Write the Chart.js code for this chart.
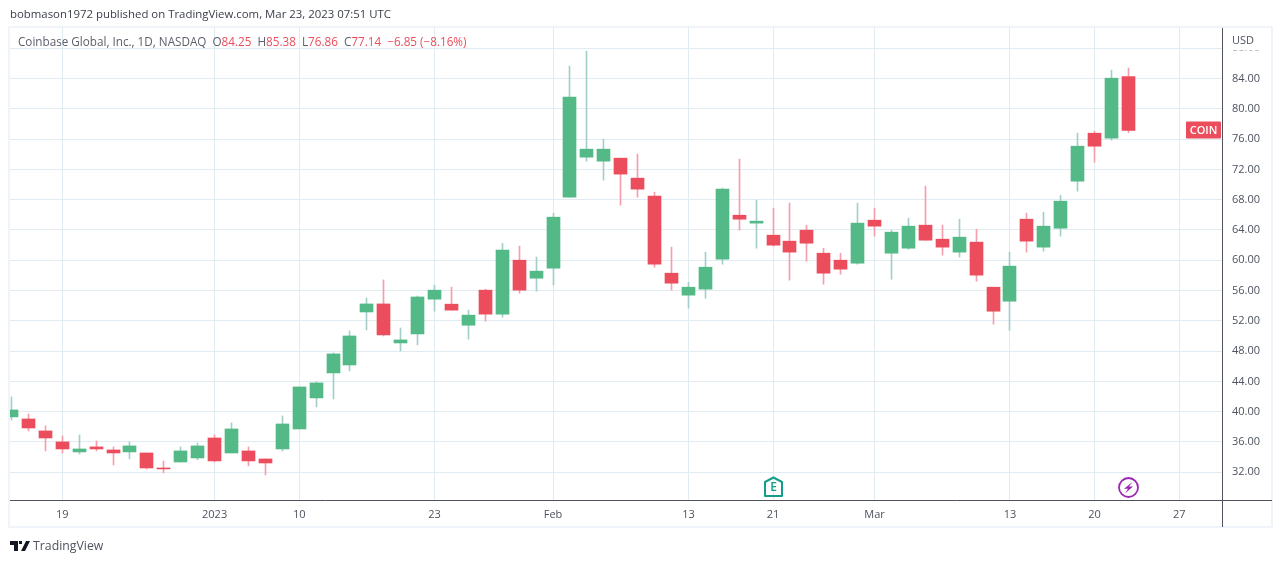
<!DOCTYPE html>
<html>
<head>
<meta charset="utf-8">
<title>COIN</title>
<script src="https://cdn.jsdelivr.net/npm/chart.js@4/dist/chart.umd.min.js"></script>
<style>
  html, body { margin: 0; padding: 0; background: #fff; overflow: hidden; }
  #wrap { position: relative; width: 1280px; height: 563px; font-family: "Open Sans", sans-serif; }
  #chart { position: absolute; left: 0; top: 0; }
  .txt { position: absolute; white-space: pre; }
  #published { left: 10px; top: 6px; font-size: 11.4px; color: #3a3e49; }
  #legend { left: 18px; top: 33px; font-size: 11.7px; color: #5d606b; }
  #legend span { color: #eb4d5c; }
  #brand { left: 33px; top: 537px; font-size: 12.3px; color: #50535e; }
  #logo { position: absolute; left: 10px; top: 541px; }
</style>
</head>
<body>
<div id="wrap">
  <canvas id="chart" width="1280" height="563"></canvas>
  <div class="txt" id="published">bobmason1972 published on TradingView.com, Mar 23, 2023 07:51 UTC</div>
  <div class="txt" id="legend">Coinbase Global, Inc., 1D, NASDAQ  O<span>84.25</span>  H<span>85.38</span>  L<span>76.86</span>  C<span>77.14</span>  <span>−6.85 (−8.16%)</span></div>
  <svg id="logo" width="20" height="10" viewBox="0 0 20 10"><path d="M0 0h8v10H4V4H0zM9 0h3v3H9zM16 0h4l-5 10h-4z" fill="#131722"/></svg>
  <div class="txt" id="brand">TradingView</div>
</div>
<script>
// trading days, oldest first, then the empty days up to the right edge
const dates = [
  'Dec 14', 'Dec 15', 'Dec 16', 'Dec 19', 'Dec 20', 'Dec 21', 'Dec 22', 'Dec 23', 'Dec 27', 'Dec 28',
  'Dec 29', 'Dec 30', 'Jan 3', 'Jan 4', 'Jan 5', 'Jan 6', 'Jan 9', 'Jan 10', 'Jan 11', 'Jan 12',
  'Jan 13', 'Jan 17', 'Jan 18', 'Jan 19', 'Jan 20', 'Jan 23', 'Jan 24', 'Jan 25', 'Jan 26', 'Jan 27',
  'Jan 30', 'Jan 31', 'Feb 1', 'Feb 2', 'Feb 3', 'Feb 6', 'Feb 7', 'Feb 8', 'Feb 9', 'Feb 10',
  'Feb 13', 'Feb 14', 'Feb 15', 'Feb 16', 'Feb 17', 'Feb 21', 'Feb 22', 'Feb 23', 'Feb 24', 'Feb 27',
  'Feb 28', 'Mar 1', 'Mar 2', 'Mar 3', 'Mar 6', 'Mar 7', 'Mar 8', 'Mar 9', 'Mar 10', 'Mar 13',
  'Mar 14', 'Mar 15', 'Mar 16', 'Mar 17', 'Mar 20', 'Mar 21', 'Mar 22', 'Mar 23', 'Mar 24', 'Mar 27'
];

const opens = [
  39.31, 39.04, 37.46, 36.01, 34.69, 35.35, 34.95, 34.69, 34.55, 32.57,
  33.36, 33.89, 36.53, 34.55, 34.82, 33.76, 35.08, 37.72, 41.82, 45.12,
  46.17, 53.17, 54.23, 49.08, 50.27, 54.86, 54.20, 51.42, 56.05, 52.88,
  60.01, 57.63, 58.95, 68.33, 73.61, 73.08, 73.48, 70.84, 68.46, 58.29,
  55.39, 56.18, 60.14, 65.95, 64.90, 63.31, 62.52, 63.97, 60.93, 60.01,
  59.61, 65.29, 60.93, 61.59, 64.63, 62.78, 61.07, 62.39, 56.44, 54.59,
  65.42, 61.73, 64.23, 70.44, 76.78, 76.12, 84.25
];
const highs = [
  41.95, 39.70, 38.12, 36.80, 36.93, 36.14, 35.35, 36.01, 34.55, 33.50,
  35.35, 35.87, 36.93, 38.52, 35.35, 33.76, 39.44, 43.27, 43.93, 47.76,
  50.66, 55.02, 57.40, 51.06, 55.29, 56.71, 56.44, 53.41, 56.18, 62.25,
  61.86, 60.41, 66.22, 85.63, 87.61, 75.99, 73.48, 74.01, 68.99, 61.73,
  57.10, 61.07, 69.52, 73.35, 67.93, 66.88, 67.54, 64.63, 61.59, 60.93,
  67.54, 66.88, 63.97, 65.56, 69.78, 64.63, 65.42, 64.10, 56.44, 61.07,
  66.22, 66.35, 68.59, 76.78, 77.04, 85.10, 85.38
];
const lows = [
  38.91, 37.46, 34.82, 34.55, 34.42, 34.82, 32.97, 33.76, 32.44, 31.91,
  33.36, 33.63, 33.36, 34.55, 32.84, 31.65, 34.82, 37.72, 40.63, 41.68,
  45.38, 50.80, 50.00, 48.02, 48.82, 53.27, 53.41, 49.58, 51.95, 52.48,
  55.65, 55.91, 56.71, 68.33, 73.08, 70.57, 67.27, 68.33, 59.08, 56.05,
  53.67, 54.99, 59.48, 63.97, 61.59, 61.86, 57.37, 59.88, 56.84, 58.16,
  59.48, 63.18, 57.50, 61.46, 62.65, 60.67, 60.41, 57.24, 51.56, 50.76,
  61.07, 61.20, 63.18, 69.12, 72.95, 75.86, 76.86
];
const closes = [
  40.23, 37.85, 36.53, 35.08, 35.08, 35.08, 34.55, 35.48, 32.57, 32.44,
  34.82, 35.48, 33.50, 37.72, 33.50, 33.23, 38.38, 43.27, 43.80, 47.63,
  50.00, 54.23, 50.14, 49.48, 55.15, 56.05, 53.41, 52.75, 52.88, 61.33,
  56.05, 58.56, 65.69, 81.53, 74.67, 74.67, 71.37, 69.39, 59.48, 56.97,
  56.44, 59.08, 69.39, 65.42, 65.16, 61.99, 61.07, 62.25, 58.29, 58.82,
  64.90, 64.50, 63.71, 64.50, 62.65, 61.73, 63.05, 58.03, 53.27, 59.22,
  62.52, 64.50, 67.80, 75.06, 75.06, 84.04, 77.14
];

const priceTicks = [32, 36, 40, 44, 48, 52, 56, 60, 64, 68, 72, 76, 80, 84, 88];
const timeTicks = ['Dec 19', 'Jan 3', 'Jan 10', 'Jan 23', 'Feb 1', 'Feb 13', 'Feb 21', 'Mar 1', 'Mar 13', 'Mar 20', 'Mar 27'];
const timeTickLabels = ['19', '2023', '10', '23', 'Feb', '13', '21', 'Mar', '13', '20', '27'];

const earningsDay = 'Feb 21';
const dividendDay = 'Mar 22';
const lastPrice = 77.14;

const UP = '#53b987';
const DOWN = '#eb4d5c';
const UP_WICK = '#a3cfcb';
const DOWN_WICK = '#f59fac';
const GRID = '#e1ecf2';
const AXIS = '#50535e';
const FRAME = '#f0f3fa';
const TEXT = '#4c525e';
const FONT = '"Open Sans", sans-serif';

const isUp = (i) => closes[i] >= opens[i];

// candles land on whole pixels in the original, so snap them to stop the wicks blurring
const snapBars = {
  id: 'snapBars',
  afterDatasetsUpdate(chart) {
    chart.data.datasets.forEach((ds, n) => {
      chart.getDatasetMeta(n).data.forEach((el) => { el.x = Math.floor(el.x) + 0.5; });
    });
  },
};

const frame = {
  id: 'frame',
  beforeDraw(chart) {
    const c = chart.ctx;
    c.save();
    c.strokeStyle = FRAME;
    c.lineWidth = 2;
    c.strokeRect(9, 27, 1263, 500);
    c.restore();
  },
  afterDraw(chart) {
    const c = chart.ctx;
    const { x, y } = chart.scales;
    c.save();
    // axis lines
    c.strokeStyle = AXIS;
    c.lineWidth = 1;
    c.beginPath();
    c.moveTo(10, 500.5);
    c.lineTo(1272, 500.5);
    c.moveTo(1222.5, 28);
    c.lineTo(1222.5, 527);
    c.stroke();

    // currency header sits over the 88.00 tick and hides most of it
    c.fillStyle = '#fff';
    c.fillRect(1224, 30, 46, 20.5);
    c.fillStyle = TEXT;
    c.font = '11px ' + FONT;
    c.textBaseline = 'middle';
    c.fillText('USD', 1232, 40.5);

    // last price tag
    const tagY = y.getPixelForValue(lastPrice);
    c.fillStyle = DOWN;
    c.beginPath();
    c.roundRect(1186, Math.round(tagY) - 8.5, 35, 17, 1);
    c.fill();
    c.fillStyle = '#fff';
    c.font = '600 11px ' + FONT;
    c.textAlign = 'center';
    c.fillText('COIN', 1203.5, tagY + 0.5);

    // earnings marker
    const ex = Math.floor(x.getPixelForValue(dates.indexOf(earningsDay))) + 0.5;
    c.strokeStyle = '#149e88';
    c.lineWidth = 2;
    c.lineJoin = 'round';
    c.beginPath();
    c.moveTo(ex, 477.5);
    c.lineTo(ex + 8.5, 482);
    c.lineTo(ex + 8.5, 496);
    c.lineTo(ex - 8.5, 496);
    c.lineTo(ex - 8.5, 482);
    c.closePath();
    c.stroke();
    c.fillStyle = '#149e88';
    c.font = '600 12px ' + FONT;
    c.fillText('E', ex, 488);

    // dividend marker
    const dx = Math.floor(x.getPixelForValue(dates.indexOf(dividendDay))) + 0.5;
    c.strokeStyle = '#9c27b0';
    c.lineWidth = 1.8;
    c.beginPath();
    c.arc(dx, 487.5, 9.5, 0, Math.PI * 2);
    c.stroke();
    c.fillStyle = '#9c27b0';
    c.beginPath();
    c.moveTo(dx + 4, 482);
    c.lineTo(dx - 4.5, 488.8);
    c.lineTo(dx - 0.5, 488.8);
    c.lineTo(dx - 3.5, 493.5);
    c.lineTo(dx + 4.5, 486.4);
    c.lineTo(dx + 0.5, 486.4);
    c.closePath();
    c.fill();
    c.restore();
  },
};

new Chart(document.getElementById('chart'), {
  type: 'bar',
  data: {
    datasets: [
      {
        label: 'Range',
        data: dates.slice(0, highs.length).map((d, i) => ({ x: i, y: [lows[i], highs[i]] })),
        backgroundColor: highs.map((h, i) => (isUp(i) ? UP_WICK : DOWN_WICK)),
        barThickness: 1,
        grouped: false,
        order: 2,
      },
      {
        label: 'Open to close',
        data: dates.slice(0, opens.length).map((d, i) => ({ x: i, y: [opens[i], closes[i]] })),
        backgroundColor: opens.map((o, i) => (isUp(i) ? UP : DOWN)),
        barThickness: 13,
        grouped: false,
        order: 1,
      },
    ],
  },
  options: {
    responsive: false,
    animation: false,
    devicePixelRatio: 1,
    layout: { padding: { left: 10, top: 27, right: 0, bottom: 36 } },
    plugins: { legend: { display: false }, tooltip: { enabled: false } },
    scales: {
      x: {
        type: 'linear',
        offset: false,
        min: -0.09,
        max: 71.53,
        afterBuildTicks(scale) {
          scale.ticks = timeTicks.map((d) => ({ value: dates.indexOf(d) }));
        },
        afterFit(scale) { scale.height = 27; },
        grid: { color: GRID, offset: false, drawTicks: false },
        border: { display: false },
        ticks: {
          autoSkip: false,
          maxRotation: 0,
          padding: 8,
          color: TEXT,
          font: { family: FONT, size: 11 },
          callback: (value) => timeTickLabels[timeTicks.indexOf(dates[value])],
        },
      },
      y: {
        position: 'right',
        min: 28.34,
        max: 90.8,
        afterBuildTicks(scale) {
          scale.ticks = priceTicks.map((v) => ({ value: v }));
        },
        afterFit(scale) { scale.width = 58; },
        grid: { color: GRID, drawTicks: false },
        border: { display: false },
        ticks: {
          padding: 10,
          color: TEXT,
          font: { family: FONT, size: 11 },
          callback: (value) => value.toFixed(2),
        },
      },
    },
  },
  plugins: [snapBars, frame],
});
</script>
</body>
</html>
